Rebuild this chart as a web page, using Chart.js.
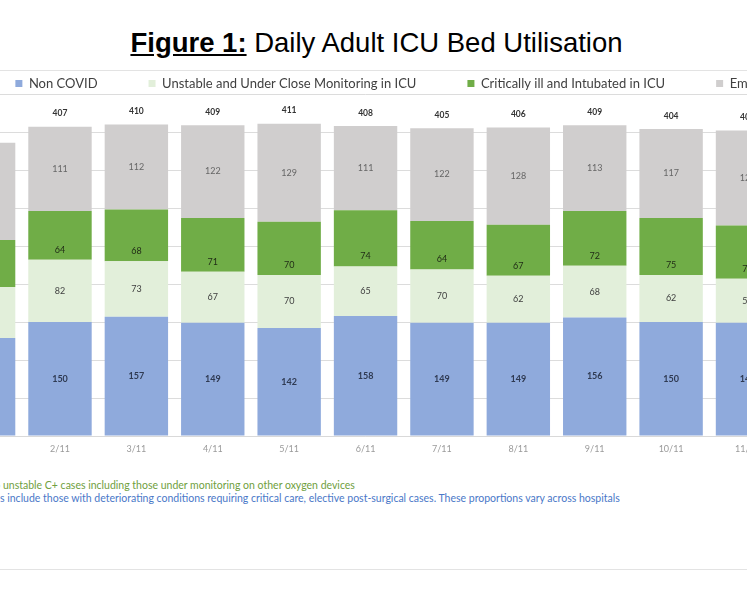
<!DOCTYPE html>
<html>
<head>
<meta charset="utf-8">
<script src="https://cdn.jsdelivr.net/npm/chart.js@4.4.1/dist/chart.umd.min.js"></script>
<style>
  html, body { margin: 0; padding: 0; background: #fff; overflow: hidden; }
  body { width: 747px; height: 598px; position: relative; }
  #title { position: absolute; top: 27px; left: 3px; width: 747px; text-align: center;
           font-family: "Liberation Sans", Arial, sans-serif; font-size: 27.5px; color: #000; line-height: 31px; }
  #title b { text-decoration: underline; }
  .rule { position: absolute; left: 0; width: 747px; height: 1px; background: #e3e3e3; }
  #wrap { position: absolute; left: -100px; top: 0; width: 1013px; height: 470px; }
  .note { position: absolute; white-space: nowrap; font-family: Lato, sans-serif; font-size: 10.5px; line-height: 12px; }
</style>
</head>
<body>
<div id="title"><b>Figure 1:</b> Daily Adult ICU Bed Utilisation</div>
<div class="rule" style="top:70px"></div>
<div class="rule" style="top:569px"></div>
<div id="wrap"><canvas id="chart-area"></canvas></div>
<div class="note" id="note1" style="top:479px;color:#70a040"><span class="pre">* Refers to </span>unstable C+ cases including those under monitoring on other oxygen devices</div>
<div class="note" id="note2" style="top:492px;color:#4a78c8"><span class="pre">** Non-COVID case</span>s include those with deteriorating conditions requiring critical care, elective post-surgical cases. These proportions vary across hospitals</div>
<script>
var categories = ['1/11', '2/11', '3/11', '4/11', '5/11', '6/11', '7/11', '8/11', '9/11', '10/11', '11/11'];
var nonCovid  = [129, 150, 157, 149, 142, 158, 149, 149, 156, 150, 149];
var unstable  = [67, 82, 73, 67, 70, 65, 70, 62, 68, 62, 58];
var critical  = [62, 64, 68, 71, 70, 74, 64, 67, 72, 75, 70];
var emptyBeds = [128, 111, 112, 122, 129, 111, 122, 128, 113, 117, 125];
var yMax = 450;
var yStep = 50;

var totals = categories.map(function(c, i) {
    return nonCovid[i] + unstable[i] + critical[i] + emptyBeds[i];
});

// legend needs a wide gap between items but not a tall box
var tightLegend = {
    id: 'tightLegend',
    beforeInit: function(chart) {
        var fit = chart.legend.fit;
        chart.legend.fit = function() {
            fit.call(this);
            this.height = 68;
        };
    }
};

var segmentLabels = {
    id: 'segmentLabels',
    afterDatasetsDraw: function(chart) {
        var ctx = chart.ctx;
        ctx.save();
        ctx.textAlign = 'center';
        ctx.textBaseline = 'middle';
        chart.data.datasets.forEach(function(ds, i) {
            var meta = chart.getDatasetMeta(i);
            ctx.font = ds.labelFont;
            ctx.fillStyle = ds.labelColor;
            meta.data.forEach(function(bar, j) {
                var y = ds.labelAtBase ? bar.base - 10 : (bar.y + bar.base) / 2;
                ctx.fillText(ds.data[j], bar.x, y);
            });
        });
        var top = chart.getDatasetMeta(chart.data.datasets.length - 1);
        ctx.font = 'bold 8.5px Lato';
        ctx.fillStyle = '#333333';
        top.data.forEach(function(bar, j) {
            ctx.fillText(totals[j], bar.x, bar.y - 13);
        });
        ctx.restore();
    }
};

var config = {
    type: 'bar',
    data: {
        labels: categories,
        datasets: [{
            label: 'Non COVID',
            data: nonCovid,
            backgroundColor: '#8faadc',
            labelColor: '#2f3a52',
            labelFont: 'bold 9px Lato'
        }, {
            label: 'Unstable and Under Close Monitoring in ICU',
            data: unstable,
            backgroundColor: '#e2efda',
            labelColor: '#404040',
            labelFont: '9px Lato'
        }, {
            label: 'Critically ill and Intubated in ICU',
            data: critical,
            backgroundColor: '#70ad47',
            labelColor: '#1f2a16',
            labelFont: '9px Lato',
            labelAtBase: true
        }, {
            label: 'Empty Beds',
            data: emptyBeds,
            backgroundColor: '#d0cece',
            labelColor: '#666666',
            labelFont: '9px Lato'
        }]
    },
    options: {
        responsive: true,
        maintainAspectRatio: false,
        animation: false,
        borderWidth: 0,
        barPercentage: 0.83,
        categoryPercentage: 1,
        layout: {
            padding: { top: 26, left: 0, right: 0, bottom: 0 }
        },
        plugins: {
            legend: {
                position: 'top',
                labels: {
                    boxWidth: 7,
                    boxHeight: 7,
                    padding: 51,
                    color: '#404040',
                    font: { family: 'Lato', size: 13 }
                }
            },
            tooltip: { enabled: false }
        },
        scales: {
            x: {
                stacked: true,
                grid: { display: false, drawTicks: false },
                border: { display: true, color: '#d9d9d9' },
                ticks: { color: '#9a9a9a', font: { family: 'Lato', size: 9 }, padding: 8 },
                afterFit: function(s) { s.height = 34; }
            },
            y: {
                stacked: true,
                min: 0,
                max: yMax,
                ticks: { display: false, stepSize: yStep },
                grid: { color: '#dcdcdc', drawTicks: false },
                border: { display: false },
                afterFit: function(s) { s.width = 45.4; }
            },
            yPad: {
                position: 'right',
                grid: { display: false },
                ticks: { display: false },
                border: { display: false },
                afterFit: function(s) { s.width = 127.3; }
            }
        }
    },
    plugins: [tightLegend, segmentLabels]
};

window.onload = function() {
    var ctx = document.getElementById('chart-area').getContext('2d');
    window.barChart = new Chart(ctx, config);

    // footnotes are cropped on the left like the reference
    var starts = { note1: 3, note2: 0 };
    Object.keys(starts).forEach(function(id) {
        var el = document.getElementById(id);
        var pre = el.querySelector('.pre');
        el.style.left = (starts[id] - pre.getBoundingClientRect().width) + 'px';
    });
};
</script>
</body>
</html>
